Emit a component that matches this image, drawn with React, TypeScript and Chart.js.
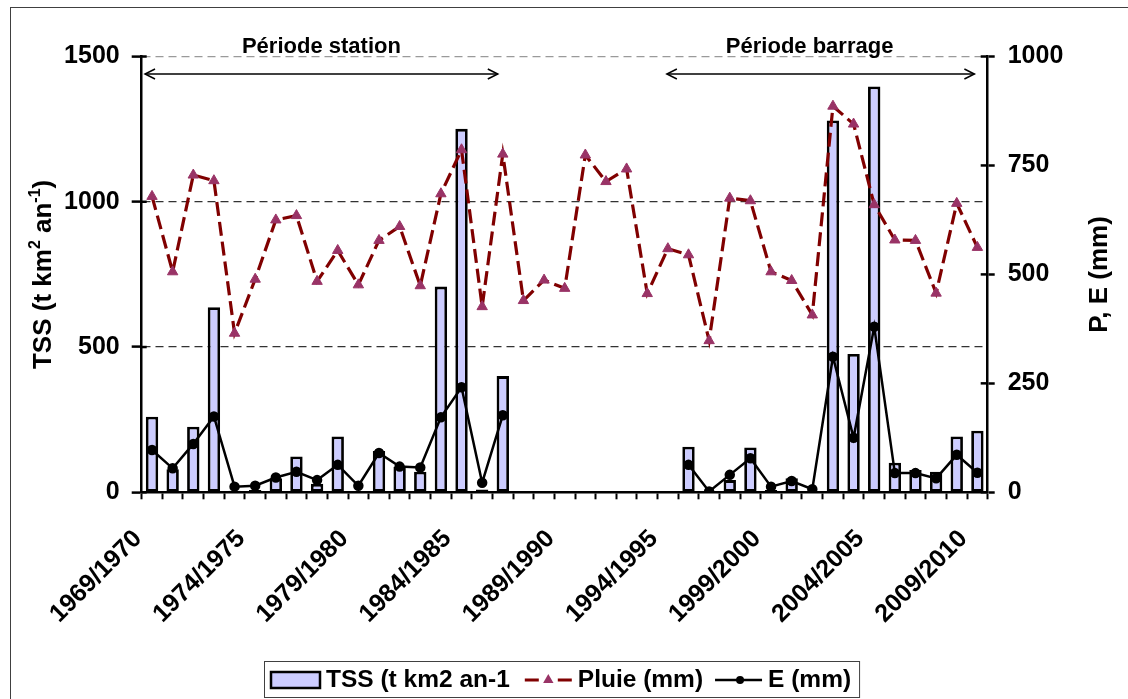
import React, { useEffect, useRef } from 'react';
import { Chart, registerables } from 'chart.js';

Chart.register(...registerables);

const categories = [
  '1969/1970', '1970/1971', '1971/1972', '1972/1973', '1973/1974', '1974/1975', '1975/1976', '1976/1977',
  '1977/1978', '1978/1979', '1979/1980', '1980/1981', '1981/1982', '1982/1983', '1983/1984', '1984/1985',
  '1985/1986', '1986/1987', '1987/1988', '1988/1989', '1989/1990', '1990/1991', '1991/1992', '1992/1993',
  '1993/1994', '1994/1995', '1995/1996', '1996/1997', '1997/1998', '1998/1999', '1999/2000', '2000/2001',
  '2001/2002', '2002/2003', '2003/2004', '2004/2005', '2005/2006', '2006/2007', '2007/2008', '2008/2009',
  '2009/2010',
];

const tssValues = [
  260, 79, 226, 637, 5, 8, 48, 123, 29, 192, 4, 142, 88, 71, 708, 1251, 10, 400,
  null, null, null, null, null, null, null, null,
  157, 0, 42, 154, 8, 48, 3, 1280, 476, 1397, 102, 77, 71, 192, 212,
];

const pluieValues = [
  679, 506, 728, 715, 365, 489, 625, 635, 484, 555, 476, 578, 610, 474, 685, 786, 426, 776,
  440, 487, 468, 774, 713, 742, 456, 559,
  545, 348, 675, 669, 506, 486, 407, 886, 845, 660, 579, 578, 457, 663, 562,
];

const eValues = [
  97, 55, 111, 174, 13, 15, 34, 47, 28, 63, 15, 90, 59, 57, 172, 241, 22, 177,
  null, null, null, null, null, null, null, null,
  63, 2, 40, 78, 13, 26, 7, 311, 125, 380, 44, 44, 32, 86, 45,
];

const leftTicks = [0, 500, 1000, 1500];
const rightTicks = [0, 250, 500, 750, 1000];

const seriesNames = ['TSS (t km2 an-1', 'Pluie (mm)', 'E (mm)'];
const periodLabels = ['Période station', 'Période barrage'];

const FONT = "'Liberation Sans', Arial, Helvetica, sans-serif";
const BAR_FILL = '#CCCCFF';
const PLUIE_LINE = '#800000';
const PLUIE_MARK = '#993366';

export default function App() {
  const ref = useRef<HTMLCanvasElement | null>(null);

  useEffect(() => {
    const canvas = ref.current;
    if (!canvas) return;

    const decor = {
      id: 'decor',
      afterDraw(chart: any) {
        const ctx = chart.ctx as CanvasRenderingContext2D;
        const xs = chart.scales.x;
        const yl = chart.scales.y;
        const yr = chart.scales.y1;
        const area = chart.chartArea;
        ctx.save();

        // outer frame
        ctx.strokeStyle = '#404040';
        ctx.lineWidth = 1;
        ctx.strokeRect(10.5, 7.5, 1400, 900);

        // inner parts of crossing tick marks
        ctx.strokeStyle = '#000';
        ctx.lineWidth = 2.5;
        leftTicks.forEach((v) => {
          const y = yl.getPixelForValue(v);
          ctx.beginPath();
          ctx.moveTo(area.left, y);
          ctx.lineTo(area.left + 5, y);
          ctx.stroke();
        });
        rightTicks.forEach((v) => {
          const y = yr.getPixelForValue(v);
          ctx.beginPath();
          ctx.moveTo(area.right - 7, y);
          ctx.lineTo(area.right, y);
          ctx.stroke();
        });

        // period arrows
        const arrow = (x1: number, x2: number, y: number) => {
          ctx.strokeStyle = '#000';
          ctx.lineWidth = 1.5;
          ctx.beginPath();
          ctx.moveTo(x1, y);
          ctx.lineTo(x2, y);
          ctx.stroke();
          ctx.beginPath();
          ctx.moveTo(x1 + 10, y - 5);
          ctx.lineTo(x1, y);
          ctx.lineTo(x1 + 10, y + 5);
          ctx.stroke();
          ctx.beginPath();
          ctx.moveTo(x2 - 10, y - 5);
          ctx.lineTo(x2, y);
          ctx.lineTo(x2 - 10, y + 5);
          ctx.stroke();
        };
        const ay = 74;
        const s1 = xs.getPixelForValue(0) - 7;
        const s2 = xs.getPixelForValue(17) - 5;
        const b1 = xs.getPixelForValue(25) - 1;
        const b2 = xs.getPixelForValue(40) - 3;
        arrow(s1, s2, ay);
        arrow(b1, b2, ay);

        ctx.fillStyle = '#000';
        ctx.font = `bold 22px ${FONT}`;
        ctx.textAlign = 'center';
        ctx.textBaseline = 'alphabetic';
        ctx.fillText(periodLabels[0], (s1 + s2) / 2, 53);
        ctx.fillText(periodLabels[1], (b1 + b2) / 2 - 11, 53);

        // left axis title with superscripts
        const midY = (area.top + area.bottom) / 2;
        const big = `bold 26px ${FONT}`;
        const small = `bold 16px ${FONT}`;
        const parts: [string, boolean][] = [
          ['TSS (t km', false],
          ['2', true],
          [' an', false],
          ['-1', true],
          [')', false],
        ];
        let total = 0;
        parts.forEach(([t, sup]) => {
          ctx.font = sup ? small : big;
          total += ctx.measureText(t).width;
        });
        ctx.save();
        ctx.translate(42, midY);
        ctx.rotate(-Math.PI / 2);
        ctx.textAlign = 'left';
        ctx.textBaseline = 'alphabetic';
        let px = -total / 2;
        parts.forEach(([t, sup]) => {
          ctx.font = sup ? small : big;
          ctx.fillText(t, px, sup ? 9 - 11 : 9);
          px += ctx.measureText(t).width;
        });
        ctx.restore();

        // right axis title
        ctx.save();
        ctx.translate(1098, midY);
        ctx.rotate(-Math.PI / 2);
        ctx.font = big;
        ctx.textAlign = 'center';
        ctx.textBaseline = 'alphabetic';
        ctx.fillText('P, E (mm)', 0, 9);
        ctx.restore();

        // legend
        const lx = 264, ly = 661, lh = 36;
        const cy = ly + lh / 2 + 1;
        ctx.font = `bold 24.5px ${FONT}`;
        ctx.textAlign = 'left';
        ctx.textBaseline = 'middle';
        let x = lx + 7;
        ctx.fillStyle = BAR_FILL;
        ctx.fillRect(x, cy - 8, 49, 16);
        ctx.strokeStyle = '#000';
        ctx.lineWidth = 2.5;
        ctx.strokeRect(x, cy - 8, 49, 16);
        x += 49 + 6;
        ctx.fillStyle = '#000';
        ctx.fillText(seriesNames[0], x, cy);
        x += ctx.measureText(seriesNames[0]).width + 15;
        ctx.strokeStyle = PLUIE_LINE;
        ctx.lineWidth = 3;
        ctx.setLineDash([14, 19]);
        ctx.beginPath();
        ctx.moveTo(x, cy);
        ctx.lineTo(x + 47, cy);
        ctx.stroke();
        ctx.setLineDash([]);
        const tx = x + 23.5;
        ctx.fillStyle = PLUIE_MARK;
        ctx.beginPath();
        ctx.moveTo(tx, cy - 6);
        ctx.lineTo(tx + 5.2, cy + 3);
        ctx.lineTo(tx - 5.2, cy + 3);
        ctx.closePath();
        ctx.fill();
        x += 47 + 6;
        ctx.fillStyle = '#000';
        ctx.fillText(seriesNames[1], x, cy);
        x += ctx.measureText(seriesNames[1]).width + 12;
        ctx.strokeStyle = '#000';
        ctx.lineWidth = 2.5;
        ctx.beginPath();
        ctx.moveTo(x, cy);
        ctx.lineTo(x + 47, cy);
        ctx.stroke();
        ctx.beginPath();
        ctx.arc(x + 25, cy, 4, 0, Math.PI * 2);
        ctx.fill();
        x += 47 + 6;
        ctx.fillText(seriesNames[2], x, cy);
        x += ctx.measureText(seriesNames[2]).width + 8;
        ctx.strokeStyle = '#404040';
        ctx.lineWidth = 1;
        ctx.strokeRect(lx + 0.5, ly + 0.5, x - lx, lh);

        ctx.restore();
      },
    };

    const chart = new Chart(canvas, {
      type: 'bar',
      data: {
        labels: categories,
        datasets: [
          {
            type: 'line',
            label: seriesNames[2],
            data: eValues,
            yAxisID: 'y1',
            borderColor: '#000',
            backgroundColor: '#000',
            borderWidth: 2.5,
            pointRadius: 4,
            pointStyle: 'circle',
            pointBackgroundColor: '#000',
            pointBorderColor: '#000',
            tension: 0,
            spanGaps: false,
            order: 1,
          } as any,
          {
            type: 'line',
            label: seriesNames[1],
            data: pluieValues,
            yAxisID: 'y1',
            borderColor: PLUIE_LINE,
            backgroundColor: PLUIE_MARK,
            borderWidth: 3.2,
            borderDash: [14, 6],
            pointRadius: 6,
            pointStyle: 'triangle',
            pointBackgroundColor: PLUIE_MARK,
            pointBorderColor: PLUIE_MARK,
            pointBorderWidth: 1,
            tension: 0,
            order: 2,
          } as any,
          {
            type: 'bar',
            label: seriesNames[0],
            data: tssValues,
            yAxisID: 'y',
            backgroundColor: BAR_FILL,
            borderColor: '#000',
            borderWidth: 2.8,
            borderSkipped: false,
            barPercentage: 0.6,
            categoryPercentage: 1,
            order: 3,
          } as any,
        ],
      },
      options: {
        responsive: false,
        animation: false,
        events: [],
        layout: { padding: { top: 56.5, left: 0, right: 0, bottom: 0 } },
        plugins: {
          legend: { display: false },
          tooltip: { enabled: false },
          title: { display: false },
        },
        scales: {
          x: {
            type: 'category',
            offset: true,
            grid: {
              offset: true,
              drawOnChartArea: false,
              drawTicks: true,
              tickLength: 7,
              tickColor: '#000',
              tickWidth: 2,
            },
            border: { display: true, color: '#000', width: 2.5 },
            ticks: {
              autoSkip: false,
              minRotation: 45,
              maxRotation: 45,
              labelOffset: -14,
              padding: 25,
              color: '#000',
              font: { family: FONT, size: 25, weight: 'bold' },
              callback: (_v: any, i: number) => (i % 5 === 0 ? categories[i] : ''),
            },
            afterFit: (s: any) => {
              s.height = 206.7;
            },
          },
          y: {
            position: 'left',
            min: 0,
            max: 1500,
            grid: {
              drawOnChartArea: true,
              drawTicks: true,
              tickLength: 10,
              tickColor: '#000',
              tickWidth: 2.5,
              lineWidth: 1.2,
              color: (c: any) =>
                c.tick && c.tick.value === 0
                  ? 'rgba(0,0,0,0)'
                  : c.tick && c.tick.value === 1500
                  ? '#9a9a9a'
                  : '#333333',
            },
            border: { display: true, color: '#000', width: 2.5, dash: [8, 5] },
            ticks: {
              stepSize: 500,
              padding: 12,
              color: '#000',
              font: { family: FONT, size: 25, weight: 'bold' },
              callback: (v: any) => String(v),
            },
            afterFit: (s: any) => {
              s.width = 141.7;
            },
          } as any,
          y1: {
            position: 'right',
            min: 0,
            max: 1000,
            grid: {
              drawOnChartArea: false,
              drawTicks: true,
              tickLength: 7,
              tickColor: '#000',
              tickWidth: 2.5,
            },
            border: { display: true, color: '#000', width: 2.5 },
            ticks: {
              stepSize: 250,
              padding: 13,
              color: '#000',
              font: { family: FONT, size: 25, weight: 'bold' },
              callback: (v: any) => String(v),
            },
            afterFit: (s: any) => {
              s.width = 140.3;
            },
          } as any,
        },
      },
      plugins: [decor],
    });

    return () => {
      chart.destroy();
    };
  }, []);

  return (
    <div
      style={{
        position: 'absolute',
        left: 0,
        top: 0,
        width: 1128,
        height: 699,
        background: '#ffffff',
        overflow: 'hidden',
      }}
    >
      <canvas ref={ref} width={1128} height={699} style={{ display: 'block', width: 1128, height: 699 }} />
    </div>
  );
}
